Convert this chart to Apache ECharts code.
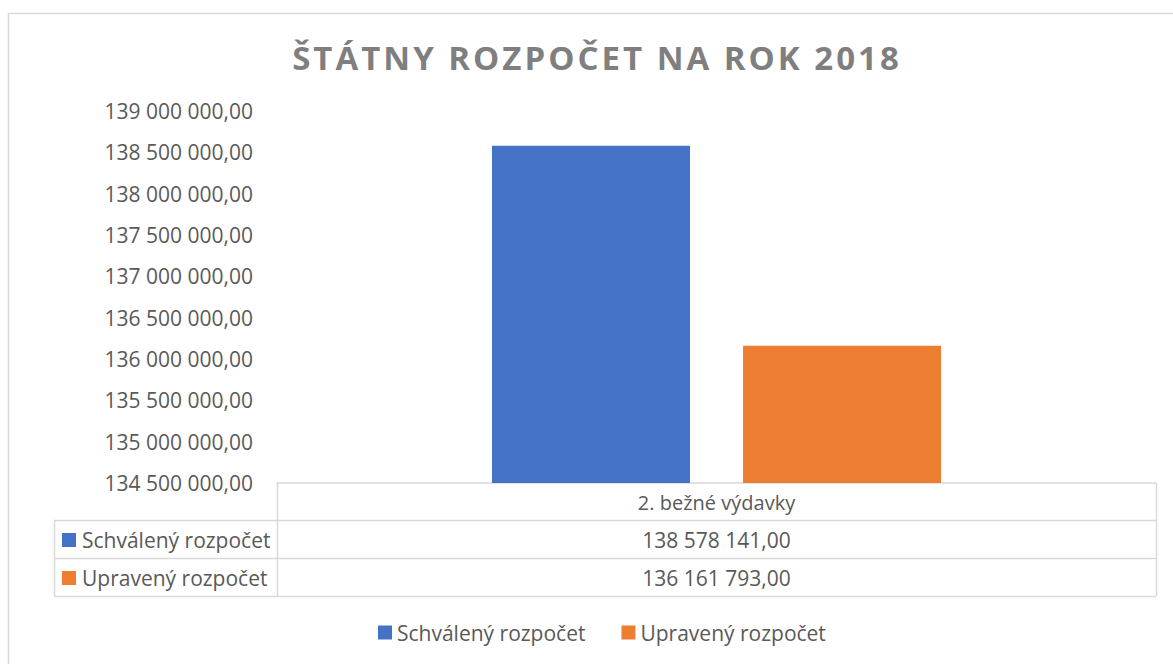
<!DOCTYPE html>
<html>
<head>
<meta charset="utf-8">
<script src="https://cdn.jsdelivr.net/npm/echarts@6/dist/echarts.min.js"></script>
<style>
html,body{margin:0;padding:0;background:#fff;}
#main{width:1173px;height:664px;}
</style>
</head>
<body>
<div id="main"></div>
<script>
// ---- data ----
const titleText = 'ŠTÁTNY ROZPOČET NA ROK 2018';
const categories = ['2. bežné výdavky'];
const seriesNames = ['Schválený rozpočet', 'Upravený rozpočet'];
const schvaleny = [138578141.00];
const upraveny = [136161793.00];
const yMin = 134500000;
const yMax = 139000000;
const yInterval = 500000;

const colors = ['#4472C4', '#ED7D31'];
const textColor = '#595959';
const lineColor = '#d9d9d9';
const FONT = '"Open Sans", "Noto Sans", sans-serif';

function fmt(v) {
  const s = Number(v).toFixed(2);
  const parts = s.split('.');
  const intPart = parts[0].replace(/\B(?=(\d{3})+(?!\d))/g, ' ');
  return intPart + ',' + parts[1];
}

const chart = echarts.init(document.getElementById('main'), null, {renderer: 'svg'});

// table geometry
const gridLeft = 277, gridRight = 1156, gridTop = 111, gridBottom = 483;
const rowLeft = 54;
const rowY = [483, 520, 558, 596];
const allSeries = [schvaleny, upraveny];

const graphics = [];
// outer chart border
graphics.push({type: 'rect', shape: {x: 8.5, y: 13.5, width: 1300, height: 800},
  style: {fill: 'none', stroke: lineColor, lineWidth: 1.5}, silent: true, z: -10});
// title
graphics.push({type: 'text', id: 'titleText', x: 597, y: 57,
  style: {text: titleText, fill: '#7f7f7f', font: 'bold 33px ' + FONT, align: 'center', verticalAlign: 'middle'}});
// table lines
const hl = (y, x1, x2) => graphics.push({type: 'line', shape: {x1: x1, y1: y + 0.5, x2: x2, y2: y + 0.5},
  style: {stroke: lineColor, lineWidth: 1.5}, silent: true});
const vl = (x, y1, y2) => graphics.push({type: 'line', shape: {x1: x + 0.5, y1: y1, x2: x + 0.5, y2: y2},
  style: {stroke: lineColor, lineWidth: 1.5}, silent: true});
hl(rowY[1], rowLeft, gridRight);
hl(rowY[2], rowLeft, gridRight);
hl(rowY[3], rowLeft, gridRight);
vl(rowLeft, rowY[1], rowY[3]);
vl(gridLeft, rowY[0], rowY[3]);
vl(gridRight, rowY[0], rowY[3]);
// header text
const cellCx = (gridLeft + gridRight) / 2;
graphics.push({type: 'text', x: cellCx, y: (rowY[0] + rowY[1]) / 2 + 1,
  style: {text: categories[0], fill: textColor, font: '20px ' + FONT, align: 'center', verticalAlign: 'middle'}});
for (let i = 0; i < seriesNames.length; i++) {
  const cy = (rowY[i + 1] + rowY[i + 2]) / 2 + 1;
  graphics.push({type: 'rect', shape: {x: 62, y: cy - 7, width: 14, height: 14}, style: {fill: colors[i]}});
  graphics.push({type: 'text', x: 82, y: cy,
    style: {text: seriesNames[i], fill: textColor, font: '21px ' + FONT, align: 'left', verticalAlign: 'middle'}});
  graphics.push({type: 'text', x: cellCx, y: cy,
    style: {text: fmt(allSeries[i][0]), fill: textColor, font: '21px ' + FONT, align: 'center', verticalAlign: 'middle'}});
}

const option = {
  animation: false,
  backgroundColor: '#ffffff',
  textStyle: {fontFamily: FONT},
  grid: {left: gridLeft, right: 1173 - gridRight, top: gridTop, bottom: 664 - gridBottom, containLabel: false},
  legend: {
    data: seriesNames,
    left: 378, top: 622,
    padding: 0,
    icon: 'rect', itemWidth: 14, itemHeight: 14, itemGap: 36,
    textStyle: {color: textColor, fontSize: 21, fontFamily: FONT},
    selectedMode: false
  },
  xAxis: {
    type: 'category',
    data: categories,
    axisLine: {show: true, lineStyle: {color: lineColor, width: 1.5}},
    axisTick: {show: false},
    axisLabel: {show: false},
    splitLine: {show: false}
  },
  yAxis: {
    type: 'value',
    min: yMin, max: yMax, interval: yInterval,
    axisLine: {show: false},
    axisTick: {show: false},
    splitLine: {show: false},
    axisLabel: {color: textColor, fontSize: 21, fontFamily: FONT, margin: 24, formatter: fmt}
  },
  series: [
    {name: seriesNames[0], type: 'bar', data: schvaleny, barWidth: 198, barGap: '26.8%', itemStyle: {color: colors[0]}},
    {name: seriesNames[1], type: 'bar', data: upraveny, barWidth: 198, barGap: '26.8%', itemStyle: {color: colors[1]}}
  ],
  graphic: graphics
};
chart.setOption(option);

function patchTitle() {
  const texts = document.querySelectorAll('#main text');
  texts.forEach(t => {
    if (t.textContent === titleText) {
      t.setAttribute('letter-spacing', '3px');
      t.style.letterSpacing = '3px';
    }
  });
}
chart.on('finished', patchTitle);
patchTitle();
setTimeout(patchTitle, 50);
</script>
</body>
</html>
